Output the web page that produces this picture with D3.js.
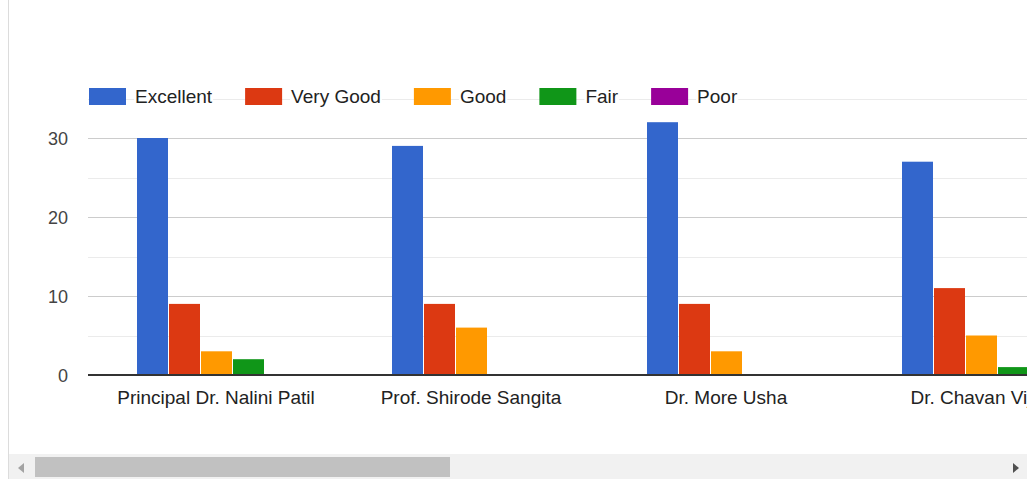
<!DOCTYPE html>
<html>
<head>
<meta charset="utf-8">
<script src="https://cdn.jsdelivr.net/npm/d3@7/dist/d3.min.js"></script>
<style>
  html, body { margin: 0; padding: 0; background: #fff; overflow: hidden; }
  svg { display: block; font-family: "Liberation Sans", Arial, sans-serif; }
</style>
</head>
<body>
<svg id="chart" width="1027" height="479"></svg>
<script>
// rating levels (series) and their colours
const ratings = ["Excellent", "Very Good", "Good", "Fair", "Poor"];
const colors = ["#3366cc", "#dc3912", "#ff9900", "#109618", "#990099"];

// teachers shown in the visible part of the scrolled chart
const teachers = ["Principal Dr. Nalini Patil", "Prof. Shirode Sangita", "Dr. More Usha", "Dr. Chavan Vijay"];

// counts per rating, one entry per teacher
const excellent = [30, 29, 32, 27];
const veryGood = [9, 9, 9, 11];
const good = [3, 6, 3, 5];
const fair = [2, 0, 0, 1];
const poor = [0, 0, 0, 0];

const yTicks = [0, 5, 10, 15, 20, 25, 30, 35];
const yLabels = [0, 10, 20, 30];

const series = [excellent, veryGood, good, fair, poor];
const rows = teachers.map((t, i) => ({
  teacher: t,
  values: ratings.map((r, j) => ({ rating: r, value: series[j][i], color: colors[j] }))
}));

const svg = d3.select("#chart");
const W = 1027, H = 479;
const plotLeft = 88, baseY = 375;

const y = d3.scaleLinear().domain([0, 35]).range([baseY, 98.5]);
const x0 = d3.scaleBand().domain(teachers).range([89.5, 89.5 + 255 * teachers.length]).padding(0);
const x1 = d3.scaleBand().domain(ratings).range([0, 160]).padding(0);
const groupOffset = (x0.bandwidth() - 160) / 2;

// gridlines
svg.append("g").selectAll("line")
  .data(yTicks.filter(d => d !== 0))
  .join("line")
  .attr("x1", plotLeft).attr("x2", W)
  .attr("y1", d => Math.round(y(d)) + 0.5).attr("y2", d => Math.round(y(d)) + 0.5)
  .attr("stroke", d => d % 10 === 0 ? "#cccccc" : "#ebebeb")
  .attr("stroke-width", 1);

// y labels
svg.append("g").selectAll("text")
  .data(yLabels)
  .join("text")
  .attr("x", 68)
  .attr("y", d => y(d) + 6.5)
  .attr("text-anchor", "end")
  .attr("font-size", 18)
  .attr("fill", "#444")
  .text(d => d);

// bars
const groups = svg.append("g").selectAll("g")
  .data(rows)
  .join("g")
  .attr("transform", d => `translate(${x0(d.teacher) + groupOffset},0)`);

groups.selectAll("rect")
  .data(d => d.values.filter(v => v.value > 0))
  .join("rect")
  .attr("x", d => x1(d.rating))
  .attr("y", d => y(d.value))
  .attr("width", x1.bandwidth() - 1)
  .attr("height", d => baseY - y(d.value))
  .attr("fill", d => d.color);

// baseline
svg.append("line")
  .attr("x1", plotLeft).attr("x2", W)
  .attr("y1", baseY).attr("y2", baseY)
  .attr("stroke", "#333").attr("stroke-width", 2);

// category labels
svg.append("g").selectAll("text")
  .data(teachers)
  .join("text")
  .attr("x", d => x0(d) + x0.bandwidth() / 2 - 1)
  .attr("y", 404)
  .attr("text-anchor", "middle")
  .attr("font-size", 19)
  .attr("fill", "#222")
  .text(d => d);

// legend
const legend = svg.append("g");
let lx = 89;
ratings.forEach((r, i) => {
  legend.append("rect")
    .attr("x", lx).attr("y", 88)
    .attr("width", 37).attr("height", 17)
    .attr("fill", colors[i]);
  const bg = legend.append("rect").attr("fill", "#fff");
  const t = legend.append("text")
    .attr("x", lx + 46).attr("y", 103)
    .attr("font-size", 19)
    .attr("fill", "#222")
    .text(r);
  const len = t.node().getComputedTextLength();
  bg.attr("x", lx + 45).attr("y", 90).attr("width", len + 2).attr("height", 16);
  lx = lx + 46 + len + 33;
});

// frame border on the left
svg.append("line")
  .attr("x1", 8.5).attr("x2", 8.5)
  .attr("y1", 0).attr("y2", H)
  .attr("stroke", "#dcdcdc");

// horizontal scrollbar
svg.append("rect")
  .attr("x", 9).attr("y", 454)
  .attr("width", W - 9).attr("height", H - 454)
  .attr("fill", "#f1f1f1");
svg.append("rect")
  .attr("x", 35).attr("y", 457)
  .attr("width", 415).attr("height", 20)
  .attr("fill", "#c1c1c1");
svg.append("path")
  .attr("d", "M18,468 L24,463 L24,473 Z")
  .attr("fill", "#a3a3a3");
svg.append("path")
  .attr("d", "M1019,468 L1013,463 L1013,473 Z")
  .attr("fill", "#505050");
</script>
</body>
</html>
